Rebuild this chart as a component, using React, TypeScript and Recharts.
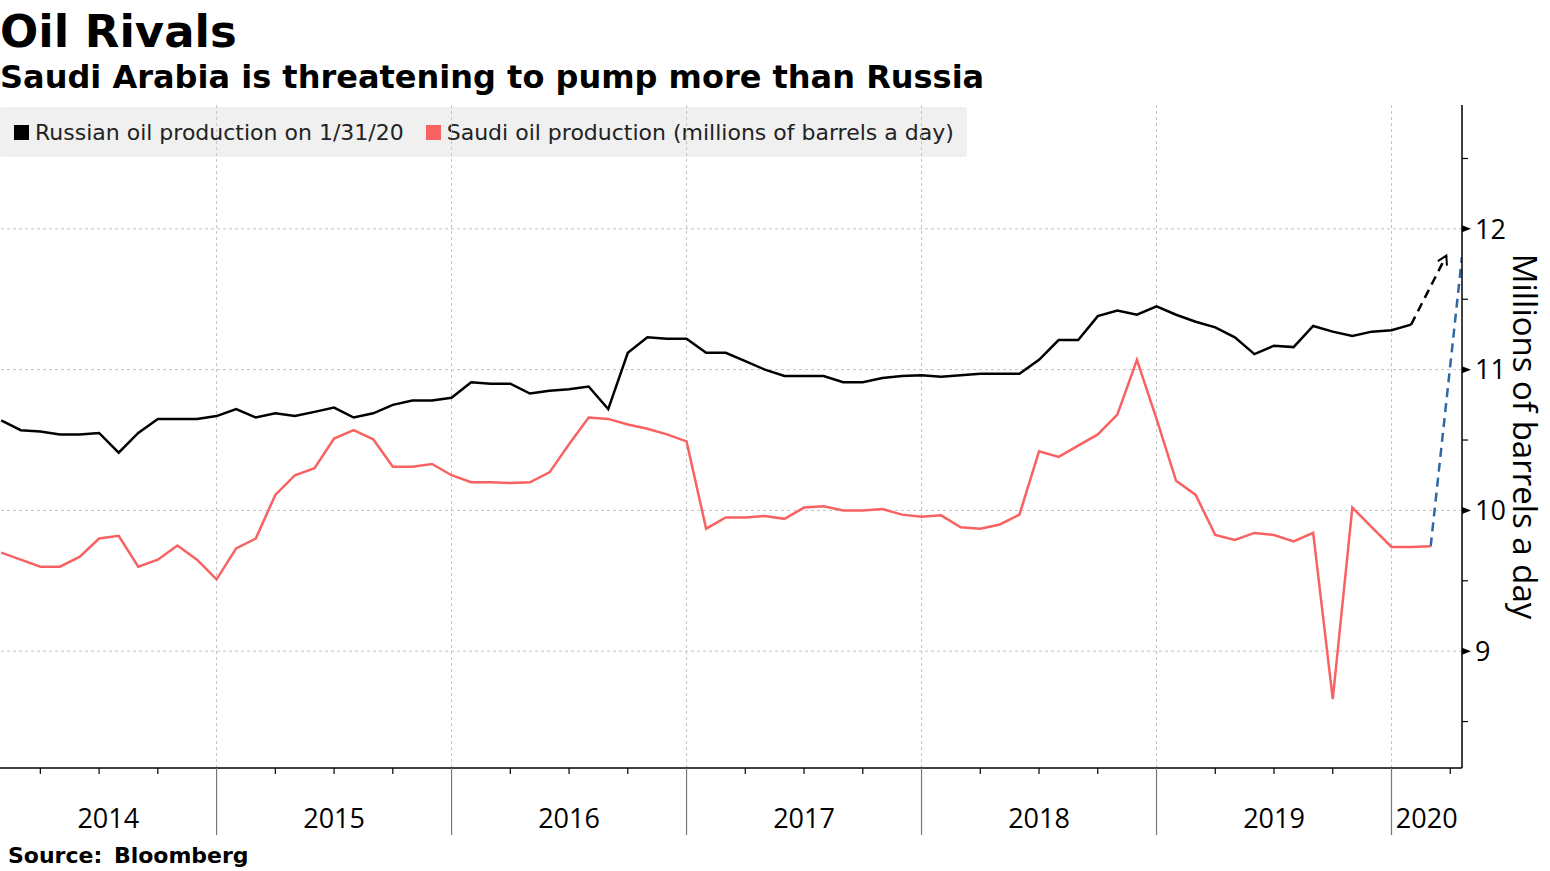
import React from 'react'
import { LineChart, Line, XAxis, YAxis, ReferenceLine } from 'recharts'

// monthly values, Jan 2014 .. Jan 2020 (plotted at month end)
const russia = [
  10.64, 10.57, 10.56, 10.54, 10.54, 10.55, 10.41, 10.55, 10.65, 10.65, 10.65, 10.67,
  10.72, 10.66, 10.69, 10.67, 10.70, 10.73, 10.66, 10.69, 10.75, 10.78, 10.78, 10.80,
  10.91, 10.90, 10.90, 10.83, 10.85, 10.86, 10.88, 10.72, 11.12, 11.23, 11.22, 11.22,
  11.12, 11.12, 11.06, 11.00, 10.955, 10.955, 10.955, 10.91, 10.91, 10.94, 10.955, 10.96,
  10.95, 10.96, 10.97, 10.97, 10.97, 11.07, 11.21, 11.21, 11.38, 11.42, 11.39, 11.45,
  11.39, 11.34, 11.30, 11.23, 11.11, 11.17, 11.16, 11.31, 11.27, 11.24, 11.27, 11.28,
  11.32,
]

// monthly values, Jan 2014 .. Feb 2020
const saudi = [
  9.70, 9.65, 9.60, 9.60, 9.67, 9.80, 9.82, 9.60, 9.65, 9.75, 9.65, 9.51,
  9.73, 9.80, 10.11, 10.25, 10.30, 10.51, 10.57, 10.505, 10.31, 10.31, 10.33, 10.25,
  10.20, 10.20, 10.195, 10.20, 10.27, 10.47, 10.66, 10.65, 10.61, 10.58, 10.54, 10.49,
  9.87, 9.95, 9.95, 9.96, 9.94, 10.02, 10.03, 10.00, 10.00, 10.01, 9.97, 9.955,
  9.965, 9.88, 9.87, 9.90, 9.97, 10.42, 10.38, 10.46, 10.54, 10.68, 11.07, 10.65,
  10.21, 10.11, 9.825, 9.79, 9.84, 9.825, 9.78, 9.84, 8.66, 10.02, 9.88, 9.74,
  9.74, 9.745,
]

// dashed outlook segments (month index, value)
const russiaOutlookT = [73, 74.8]
const russiaOutlook = [11.32, 11.81]
const saudiOutlookT = [74, 75.6]
const saudiOutlook = [9.745, 11.8]

const years = [2014, 2015, 2016, 2017, 2018, 2019, 2020]
const yTicks = [8.5, 9, 9.5, 10, 10.5, 11, 11.5, 12, 12.5]
const gridValues = [9, 10, 11, 12]
const seriesNames = ['Russian oil production on 1/31/20', 'Saudi oil production (millions of barrels a day)']

const X_DOMAIN: [number, number] = [0.94, 75.6]
const Y_DOMAIN: [number, number] = [8.17, 12.88]

const BLACK = '#000000'
const RED = '#f86262'
const BLUE = '#2f67a3'

const russiaData = russia.map((v, i) => ({ t: i + 1, v }))
const saudiData = saudi.map((v, i) => ({ t: i + 1, v }))
const russiaOutlookData = russiaOutlook.map((v, i) => ({ t: russiaOutlookT[i], v }))
const saudiOutlookData = saudiOutlook.map((v, i) => ({ t: saudiOutlookT[i], v }))

const yearLabels = years.map((yr) => {
  const s = Math.max((yr - 2014) * 12, X_DOMAIN[0])
  const e = Math.min((yr - 2014) * 12 + 12, X_DOMAIN[1])
  return { yr, at: (s + e) / 2 }
})
const quarterTicks: number[] = []
for (let m = 3; m <= X_DOMAIN[1]; m += 3) quarterTicks.push(m)
const xTicks = Array.from(new Set([...quarterTicks, ...yearLabels.map((d) => d.at)])).sort((a, b) => a - b)
const yearLines = quarterTicks.filter((m) => m % 12 === 0)

const tickFont = "'Open Sans', 'Noto Sans', sans-serif"
const headFont = "'DejaVu Sans', Verdana, sans-serif"

const XTick = (props: any) => {
  const { x, y, payload } = props
  const v = payload.value
  const isQuarter = Number.isInteger(v) && v % 3 === 0
  const isYear = isQuarter && v % 12 === 0
  const lab = yearLabels.find((d) => Math.abs(d.at - v) < 1e-6)
  return (
    <g>
      {isQuarter && (
        <line x1={x} x2={x} y1={y} y2={y + (isYear ? 67 : 6)} stroke={isYear ? '#777' : '#000'} strokeWidth={1.2} />
      )}
      {lab && (
        <text x={x} y={y + 60} textAnchor="middle" fontSize={27} fontFamily={tickFont} fill="#000">
          {lab.yr}
        </text>
      )}
    </g>
  )
}

const YTick = (props: any) => {
  const { x, y, payload } = props
  const v = payload.value
  if (!Number.isInteger(v)) {
    return <line x1={x} x2={x + 6} y1={y} y2={y} stroke="#000" strokeWidth={1.2} />
  }
  return (
    <g>
      <path d={`M${x},${y - 3.5}L${x + 9},${y}L${x},${y + 3.5}Z`} fill="#000" />
      <text x={x + 13} y={y} dy="0.36em" fontSize={27} fontFamily={tickFont} fill="#000">
        {v}
      </text>
    </g>
  )
}

const ArrowDot = (props: any) => {
  const { cx, cy, index } = props
  if (index !== russiaOutlookData.length - 1) return <g key={`d${index}`} />
  return (
    <path
      key={`d${index}`}
      d={`M${cx - 8.5},${cy + 5.5}L${cx},${cy}L${cx + 0.6},${cy + 10}`}
      fill="none"
      stroke={BLACK}
      strokeWidth={2}
    />
  )
}

export default function App() {
  return (
    <div style={{ position: 'absolute', left: 0, top: 0, width: 1550, height: 871, background: '#fff' }}>
      <div style={{ position: 'absolute', left: 0, top: 9, fontFamily: headFont, fontWeight: 700, fontSize: 45, lineHeight: 1, color: '#000' }}>
        Oil Rivals
      </div>
      <div style={{ position: 'absolute', left: 0, top: 61, fontFamily: headFont, fontWeight: 700, fontSize: 32, lineHeight: 1, color: '#000', whiteSpace: 'nowrap' }}>
        Saudi Arabia is threatening to pump more than Russia
      </div>
      <div
        style={{
          position: 'absolute', left: 0, top: 107, width: 967, height: 50, background: '#f0f0f0', borderRadius: 2,
          display: 'flex', alignItems: 'center', fontFamily: headFont, fontSize: 22, color: '#222', whiteSpace: 'nowrap',
        }}
      >
        {seriesNames.map((name, i) => (
          <div key={name} style={{ display: 'flex', alignItems: 'center', marginLeft: i === 0 ? 14 : 22 }}>
            <span style={{ display: 'inline-block', width: 15, height: 15, background: i === 0 ? BLACK : RED, marginRight: 6 }} />
            <span>{name}</span>
          </div>
        ))}
      </div>
      <div style={{ position: 'absolute', left: 0, top: 0 }}>
        <LineChart width={1550} height={871} margin={{ top: 105, right: 0, bottom: 13, left: 0 }}>
          <XAxis
            dataKey="t"
            type="number"
            domain={X_DOMAIN}
            allowDataOverflow
            ticks={xTicks}
            interval={0}
            tickSize={0}
            tickMargin={0}
            tickLine={false}
            tick={<XTick />}
            height={90}
            axisLine={{ stroke: '#000', strokeWidth: 1.5 }}
          />
          <YAxis
            orientation="right"
            type="number"
            domain={Y_DOMAIN}
            allowDataOverflow
            ticks={yTicks}
            interval={0}
            tickSize={0}
            tickMargin={0}
            tickLine={false}
            tick={<YTick />}
            width={88}
            axisLine={{ stroke: '#000', strokeWidth: 1.5 }}
            label={{
              value: 'Millions of barrels a day',
              angle: 90,
              position: 'center',
              dx: 19,
              style: { fontFamily: tickFont, fontSize: 33, fill: '#000' },
            }}
          />
          {gridValues.map((v) => (
            <ReferenceLine key={`h${v}`} y={v} stroke="#c4c4c4" strokeDasharray="3 3" strokeWidth={1} />
          ))}
          {yearLines.map((m) => (
            <ReferenceLine key={`v${m}`} x={m} stroke="#c4c4c4" strokeDasharray="3 3" strokeWidth={1} />
          ))}
          <Line data={saudiOutlookData} dataKey="v" stroke={BLUE} strokeWidth={2.5} strokeDasharray="9 6" dot={false} isAnimationActive={false} />
          <Line data={russiaOutlookData} dataKey="v" stroke={BLACK} strokeWidth={2.5} strokeDasharray="9 6" dot={<ArrowDot />} isAnimationActive={false} />
          <Line data={saudiData} dataKey="v" stroke={RED} strokeWidth={2.5} dot={false} isAnimationActive={false} />
          <Line data={russiaData} dataKey="v" stroke={BLACK} strokeWidth={2.5} dot={false} isAnimationActive={false} />
        </LineChart>
      </div>
      <div style={{ position: 'absolute', left: 8, top: 845, fontFamily: headFont, fontWeight: 700, fontSize: 22, lineHeight: 1, color: '#000', wordSpacing: 4 }}>
        Source: Bloomberg
      </div>
    </div>
  )
}
